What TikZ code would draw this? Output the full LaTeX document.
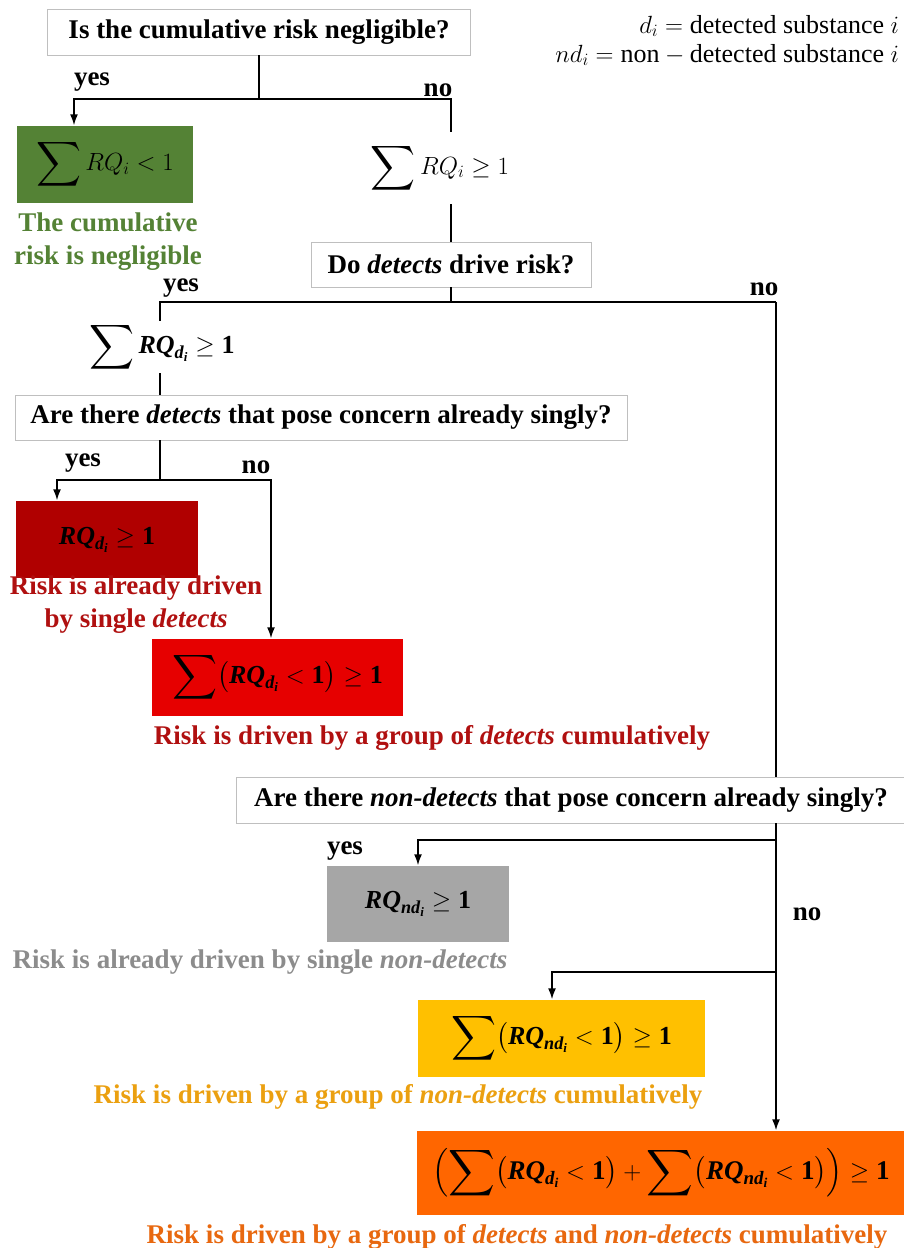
\documentclass[tikz,border=0pt]{standalone}
\usepackage{amsmath, amssymb}
\usepackage{fontspec}
\setmainfont{Liberation Serif}
\usepackage{tikz}
\usetikzlibrary{arrows.meta}

\definecolor{okgreen}{HTML}{548235}
\definecolor{sglred}{HTML}{B00000}
\definecolor{grpred}{HTML}{E60000}
\definecolor{redtxt}{HTML}{B01010}
\definecolor{ndgray}{HTML}{A6A6A6}
\definecolor{graytxt}{HTML}{8C8C8C}
\definecolor{ndyellow}{HTML}{FFC000}
\definecolor{yellowtxt}{HTML}{EBA010}
\definecolor{allorange}{HTML}{FF6600}
\definecolor{orangetxt}{HTML}{E8680F}

% bold italic letters inside formulas
\newcommand{\bq}[1]{\text{\bfseries\itshape #1}}
\newcommand{\bone}{\text{\bfseries 1}}
\newcommand{\RQd}{\bq{RQ}_{\bq{d}_{\bq{i}}}}
\newcommand{\RQnd}{\bq{RQ}_{\bq{nd}_{\bq{i}}}}
\newcommand{\bsum}{\mathop{\vcenter{\hbox{\scalebox{1.2}{$\displaystyle\sum$}}}}}

\begin{document}
\begin{tikzpicture}[x=1pt, y=-1pt, line width=1.5pt,
    >={Latex[length=11pt, width=8pt]},
    qbox/.style={draw=black!25, line width=0.8pt, fill=white, inner sep=0pt,
        font=\fontsize{27}{31}\selectfont\bfseries},
    res/.style={inner sep=0pt, font=\fontsize{26}{30}\selectfont},
    lbl/.style={inner sep=1pt, font=\fontsize{27}{31}\selectfont\bfseries},
    note/.style={inner sep=0pt, font=\fontsize{27}{33}\selectfont\bfseries, align=center}]

    % Page
    \fill[white] (0,0) rectangle (904,1248);
    \useasboundingbox (0,0) rectangle (904,1248);

    % Legend
    \node[anchor=east, font=\fontsize{26}{30}\selectfont] (leg1) at (903,26) {$d_i = \text{detected substance } i$};
    \node[anchor=east, font=\fontsize{26}{30}\selectfont] (leg2) at (903,55) {$nd_i = \text{non} - \text{detected substance } i$};

    % First question
    \node[qbox, minimum width=423, minimum height=46] (q1) at (259,32) {Is the cumulative risk negligible?};
    \coordinate (j1) at (259,99);
    \coordinate (y1) at (74,99);
    \coordinate (n1) at (451,99);

    \node[res, fill=okgreen, minimum width=176, minimum height=77] (ok) at (105,164.5) {$\bsum RQ_i < 1$};
    \node[note, text=okgreen] (oktxt) at (108,242) {The cumulative\\risk is negligible};
    \node[res, minimum height=71] (sumall) at (440,168) {$\bsum RQ_i \geq 1$};

    \draw (q1) -- (j1);
    \draw[->] (j1) -- (y1) -- (y1 |- ok.north);
    \draw (j1) -- (n1) -- (n1 |- sumall.north);
    \node[lbl] (yes1) at (92,82) {yes};
    \node[lbl] (no1) at (438,90) {no};

    % Detects or not
    \node[qbox, minimum width=280, minimum height=45] (q2) at (451,264.5) {Do \textit{detects} drive risk?};
    \draw (sumall.south -| n1) -- (q2);
    \coordinate (j2) at (451,302);
    \coordinate (y2) at (160,302);
    \coordinate (n2) at (776,302);

    \node[res, minimum height=51] (sumd) at (162,347) {$\bsum \RQd \geq \bone$};
    \draw (q2) -- (j2);
    \draw (j2) -- (y2) -- (y2 |- sumd.north);
    \draw (j2) -- (n2);
    \node[lbl] (yes2) at (181,288) {yes};
    \node[lbl] (no2) at (764,289) {no};

    % Single detects
    \node[qbox, minimum width=612, minimum height=45] (q3) at (321,417.5) {Are there \textit{detects} that pose concern already singly?};
    \draw (sumd.south -| y2) -- (y2 |- q3.north);
    \coordinate (j3) at (160,480);
    \coordinate (y3) at (57,480);
    \coordinate (n3) at (271,480);

    \node[res, fill=sglred, minimum width=182, minimum height=77] (sgl) at (107,539.5) {$\RQd \geq \bone$};
    \node[note, text=redtxt] (sgltxt) at (136,605) {Risk is already driven\\by single \textit{detects}};
    \node[res, fill=grpred, minimum width=251, minimum height=77] (grp) at (277.5,677.5) {$\bsum \bigl(\RQd < \bone\bigr) \geq \bone$};
    \node[note, text=redtxt] (grptxt) at (432,738) {Risk is driven by a group of \textit{detects} cumulatively};

    \draw (q3.south -| j3) -- (j3);
    \draw[->] (j3) -- (y3) -- (y3 |- sgl.north);
    \draw[->] (j3) -- (n3) -- (n3 |- grp.north);
    \node[lbl] (yes3) at (83,463) {yes};
    \node[lbl] (no3) at (256,467) {no};

    % Single non-detects
    \node[qbox, minimum width=670, minimum height=46] (q4) at (571,800) {Are there \textit{non-detects} that pose concern already singly?};
    \draw (n2) -- (n2 |- q4.north);
    \coordinate (j4) at (776,840);
    \coordinate (y4) at (418,840);
    \coordinate (j5) at (776,972);
    \coordinate (y5) at (552,972);

    \node[res, fill=ndgray, minimum width=182, minimum height=76] (ndsgl) at (418,904) {$\RQnd \geq \bone$};
    \node[note, text=graytxt] (ndsgltxt) at (260,962) {Risk is already driven by single \textit{non-detects}};
    \node[res, fill=ndyellow, minimum width=287, minimum height=77] (ndgrp) at (561.5,1038.5) {$\bsum \bigl(\RQnd < \bone\bigr) \geq \bone$};
    \node[note, text=yellowtxt] (ndgrptxt) at (398,1097) {Risk is driven by a group of \textit{non-detects} cumulatively};
    \node[res, fill=allorange, minimum width=488, minimum height=84, font=\fontsize{27}{31}\selectfont] (all) at (661,1173) {$\left(\bsum \bigl(\RQd < \bone\bigr) + \bsum \bigl(\RQnd < \bone\bigr)\right) \geq \bone$};
    \node[note, text=orangetxt] (alltxt) at (517,1237) {Risk is driven by a group of \textit{detects} and \textit{non-detects} cumulatively};

    \draw (q4.south -| j4) -- (j4);
    \draw[->] (j4) -- (y4) -- (ndsgl.north);
    \draw (j4) -- (j5);
    \draw[->] (j5) -- (y5) -- (y5 |- ndgrp.north);
    \draw[->] (j5) -- (j5 |- all.north);
    \node[lbl] (yes4) at (345,851) {yes};
    \node[lbl] (no4) at (807,914) {no};
\end{tikzpicture}
\end{document}
